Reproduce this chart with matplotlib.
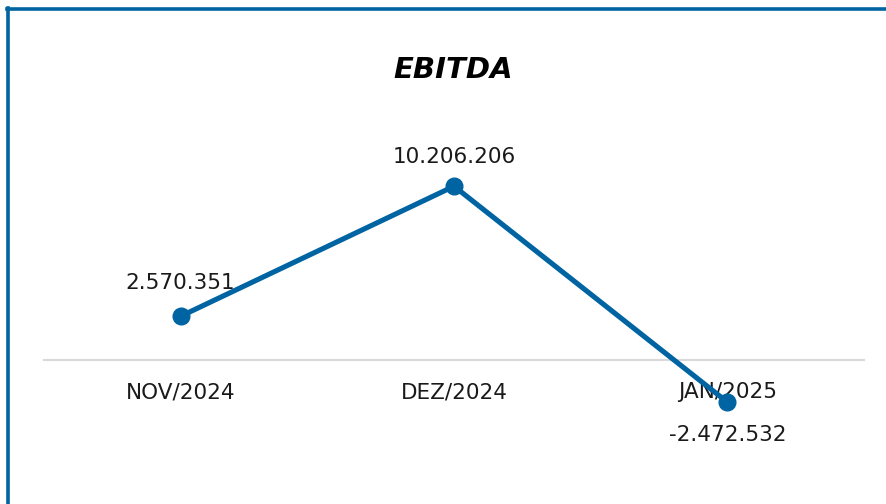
import matplotlib.pyplot as plt
from matplotlib.lines import Line2D

months = ["NOV/2024", "DEZ/2024", "JAN/2025"]
ebitda = [2570351, 10206206, -2472532]
value_labels = ["2.570.351", "10.206.206", "-2.472.532"]

blue = "#0064a2"
W, H = 887, 504

fig = plt.figure(figsize=(W / 100, H / 100), dpi=100)
plt.rcParams["font.family"] = ["DejaVu Sans"]

# axes placed in pixel terms: x from 44 to 864, y from 110 to 470
ax = fig.add_axes([44 / W, 1 - 470 / H, (864 - 44) / W, (470 - 110) / H])
x = list(range(len(months)))
ax.plot(x, ebitda, color=blue, lw=3.7, marker="o", ms=12, zorder=3,
        solid_capstyle="round")
ax.set_xlim(-0.5, 2.5)
ax.set_ylim(-6461070, 14684250)

for s in ["top", "right", "left"]:
    ax.spines[s].set_visible(False)
ax.spines["bottom"].set_position(("data", 0))
ax.spines["bottom"].set_color("#d9d9d9")
ax.spines["bottom"].set_linewidth(1.5)
ax.set_yticks([])
ax.set_xticks(x)
ax.set_xticklabels(months, fontsize=15.5, color="#1a1a1a")
ax.tick_params(axis="x", length=0, pad=16)

offsets = [24, 21, -24]
for xi, v, lab, off in zip(x, ebitda, value_labels, offsets):
    ax.annotate(lab, (xi, v), xytext=(0, off), textcoords="offset points",
                ha="center", va="center", fontsize=15.5, color="#1a1a1a")

fig.text(453 / W, 1 - 70 / H, "EBITDA", ha="center", va="center",
         fontsize=21, fontweight="bold", fontstyle="italic", color="black")

# frame (only left and top edges visible)
fig.add_artist(Line2D([8.5 / W, 8.5 / W], [0, 1 - 8 / H], color=blue, lw=2.6,
                      transform=fig.transFigure))
fig.add_artist(Line2D([7 / W, 1], [1 - 9 / H, 1 - 9 / H], color=blue, lw=2.6,
                      transform=fig.transFigure))

fig.savefig("out.png", dpi=100)
